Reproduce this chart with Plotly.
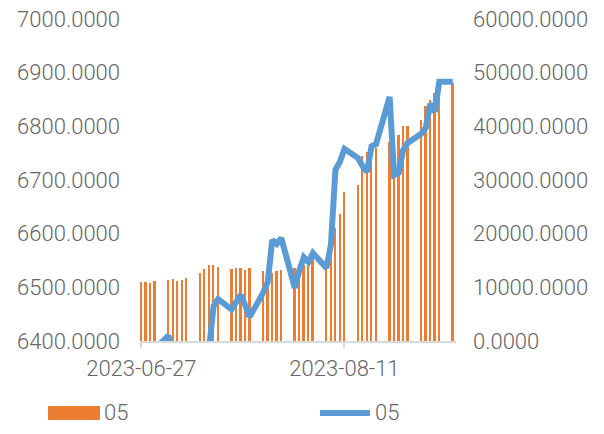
import plotly.graph_objects as go

dates = [
    "2023-06-27", "2023-06-28", "2023-06-29", "2023-06-30",
    "2023-07-03", "2023-07-04", "2023-07-05", "2023-07-06", "2023-07-07",
    "2023-07-10", "2023-07-11", "2023-07-12", "2023-07-13", "2023-07-14",
    "2023-07-17", "2023-07-18", "2023-07-19", "2023-07-20", "2023-07-21",
    "2023-07-24", "2023-07-25", "2023-07-26", "2023-07-27", "2023-07-28",
    "2023-07-31", "2023-08-01", "2023-08-02", "2023-08-03", "2023-08-04",
    "2023-08-07", "2023-08-08", "2023-08-09", "2023-08-10", "2023-08-11",
    "2023-08-14", "2023-08-15", "2023-08-16", "2023-08-17", "2023-08-18",
    "2023-08-21", "2023-08-22", "2023-08-23", "2023-08-24", "2023-08-25",
    "2023-08-28", "2023-08-29", "2023-08-30", "2023-08-31", "2023-09-01",
    "2023-09-04",
]

bar_values = [
    10940, 10940, 10750, 11120,
    11370, 11610, 11180, 11370, 11740,
    12730, 13360, 14220, 14100, 13790,
    13470, 13600, 13600, 13280, 13600,
    13040, 13000, 12730, 13100, 13170,
    13660, 13800, 14200, 14000, 16640,
    14000, 16000, 21000, 23660, 27800,
    29060, 34470, 35210, 36000, 35900,
    37130, 30900, 38380, 40110, 40110,
    41170, 43780, 45000, 46150, 47500,
    48010,
]

line_values = [
    6350, 6345, 6360, 6385,
    6410, 6375, 6360, 6340, 6350,
    6345, 6335, 6385, 6465, 6478,
    6459, 6472, 6486, 6467, 6445,
    6490, 6510, 6588, 6581, 6592,
    6499, 6532, 6556, 6547, 6564,
    6536, 6579, 6719, 6734, 6758,
    6741, 6726, 6715, 6763, 6767,
    6855, 6709, 6713, 6756, 6769,
    6786, 6797, 6842, 6827, 6883,
    6883,
]

series_name = "05"
left_ticks = [6400, 6500, 6600, 6700, 6800, 6900, 7000]
right_ticks = [0, 10000, 20000, 30000, 40000, 50000, 60000]

ORANGE = "#ED7D31"
BLUE = "#5B9BD5"
GRAY_TEXT = "#666666"
AXIS_GRAY = "#D9D9D9"
FONT = dict(family="Roboto, 'Liberation Sans', sans-serif", size=22, color=GRAY_TEXT, weight=300)

DAY_MS = 86400000

fig = go.Figure()
fig.add_trace(go.Bar(
    x=dates, y=bar_values, name=series_name, yaxis="y",
    marker=dict(color=ORANGE, line=dict(width=0)),
    width=0.40 * DAY_MS, showlegend=False,
))
fig.add_trace(go.Scatter(
    x=dates, y=line_values, name=series_name, yaxis="y2", mode="lines",
    line=dict(color=BLUE, width=6), showlegend=False,
))

fig.update_layout(
    width=604, height=434, autosize=False,
    margin=dict(l=140, r=148, t=19, b=93, autoexpand=False),
    paper_bgcolor="white", plot_bgcolor="white",
    font=FONT,
    bargap=0,
    xaxis=dict(
        type="date",
        range=["2023-06-26 17:00", "2023-09-04 17:00"],
        tick0="2023-06-27", dtick=45 * DAY_MS,
        tickformat="%Y-%m-%d",
        showgrid=False, zeroline=False,
        showline=True, linecolor=AXIS_GRAY, linewidth=2,
        ticks="outside", ticklen=5, tickcolor=AXIS_GRAY, tickwidth=2,
        ticklabelstandoff=2,
        tickfont=FONT, automargin=False,
    ),
    yaxis=dict(
        side="right", range=[0, 60000],
        tickvals=right_ticks, tickformat=".4f",
        showgrid=False, zeroline=False, showline=False,
        ticks="", ticklabelstandoff=16,
        tickfont=FONT, automargin=False,
    ),
    yaxis2=dict(
        side="left", overlaying="y", range=[6400, 7000],
        tickvals=left_ticks, tickformat=".4f",
        showgrid=False, zeroline=False, showline=False,
        ticks="", ticklabelstandoff=19,
        tickfont=FONT, automargin=False,
    ),
    showlegend=False,
)

# Legend drawn manually to match the wide Excel-style swatches
fig.add_shape(type="rect", xref="paper", yref="paper",
              x0=-0.2911, x1=-0.1266, y0=-0.2453, y1=-0.2019,
              fillcolor=ORANGE, line=dict(width=0))
fig.add_annotation(xref="paper", yref="paper", x=-0.120, y=-0.2236,
                   xanchor="left", yanchor="middle", text=series_name,
                   showarrow=False, font=FONT)
fig.add_shape(type="line", xref="paper", yref="paper",
              x0=0.5696, x1=0.7278, y0=-0.2236, y1=-0.2236,
              line=dict(color=BLUE, width=6))
fig.add_annotation(xref="paper", yref="paper", x=0.738, y=-0.2236,
                   xanchor="left", yanchor="middle", text=series_name,
                   showarrow=False, font=FONT)

fig.write_html("out.html", config={"displayModeBar": False},
               post_script="document.body.style.margin='0';")
